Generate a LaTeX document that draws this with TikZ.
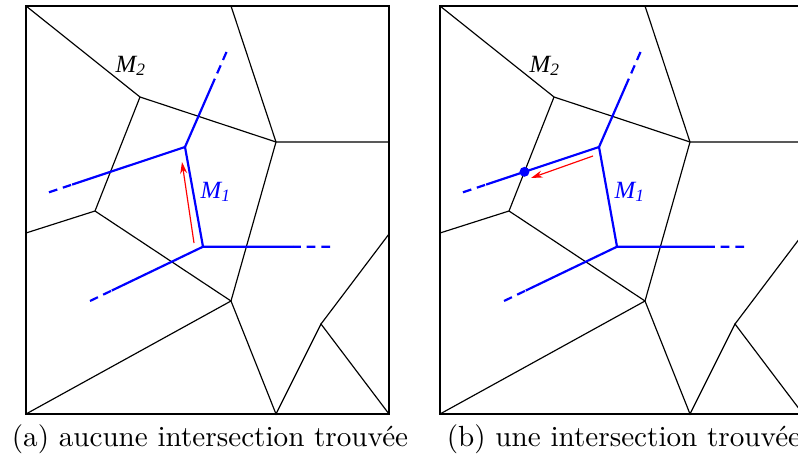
\documentclass[tikz,border=0pt]{standalone}
\usepackage{fontspec}
\usepackage{tikz}
\usetikzlibrary{arrows.meta,calc}
\newfontfamily\vorofont{Liberation Serif}
\definecolor{voroBlue}{HTML}{0000FF}
\definecolor{voroRed}{HTML}{FF0000}

\begin{document}
\begin{tikzpicture}[x=0.343pt,y=-0.343pt,
    cell/.style={line width=0.4pt,black},
    frame/.style={line width=0.5pt,black},
    seg/.style={line width=0.75pt,voroBlue,line join=round},
    raydash/.style={seg,dash pattern=on 3pt off 2pt},
    walk/.style={line width=0.4pt,voroRed,-{Stealth[length=4pt,width=2.4pt]}},
    lbl/.style={font=\vorofont\itshape\fontsize{8.5}{10}\selectfont,inner sep=0pt},
    caption/.style={anchor=base,inner sep=0pt}]
  \useasboundingbox (0,0) rectangle (798,460);
  % les deux panneaux ont le meme diagramme
  \foreach \dx/\sub/\txt in {0/a/{(a) aucune intersection trouvée},
                             414/b/{(b) une intersection trouvée}}{
    \begin{scope}[shift={(\dx,0)}]
      \coordinate (TL\sub) at (26,6);
      \coordinate (BR\sub) at (389,414);
      \coordinate (BL\sub) at (26,414);
      \coordinate (T\sub)  at (231,6);
      \coordinate (R1\sub) at (389,142);
      \coordinate (R2\sub) at (389,234);
      \coordinate (L1\sub) at (26,233);
      \coordinate (A\sub) at (140,97);
      \coordinate (B\sub) at (276,142);
      \coordinate (C\sub) at (95,211);
      \coordinate (D\sub) at (231,301);
      \coordinate (E\sub) at (276,414);
      \coordinate (F\sub) at (321,324);
      \draw[frame] (TL\sub) rectangle (BR\sub);
      \draw[cell] (TL\sub) -- (A\sub) -- (B\sub) -- (R1\sub);
      \draw[cell] (T\sub) -- (B\sub) -- (D\sub) -- (BL\sub);
      \draw[cell] (A\sub) -- (C\sub) -- (L1\sub);
      \draw[cell] (C\sub) -- (D\sub) -- (E\sub) -- (F\sub) -- (BR\sub);
      \draw[cell] (F\sub) -- (R2\sub);
      % cellule de M1
      \coordinate (P\sub) at (185,147);
      \coordinate (Q\sub) at (203,246.7);
      \coordinate (Wu\sub) at (226.5,52);
      \coordinate (Wl\sub) at (49,192.3);
      \coordinate (Wr\sub) at (330,246.7);
      \coordinate (Wd\sub) at (90,301);
      \draw[seg] ($(P\sub)!0.83!(Wl\sub)$) -- (P\sub) -- (Q\sub) -- ($(Q\sub)!0.71!(Wr\sub)$);
      \draw[seg] ($(P\sub)!0.665!(Wu\sub)$) -- (P\sub);
      \draw[seg] ($(Q\sub)!0.807!(Wd\sub)$) -- (Q\sub);
      \draw[raydash] (Wu\sub) -- ($(P\sub)!0.665!(Wu\sub)$);
      \draw[raydash] (Wl\sub) -- ($(P\sub)!0.83!(Wl\sub)$);
      \draw[raydash] (Wr\sub) -- ($(Q\sub)!0.71!(Wr\sub)$);
      \draw[raydash] (Wd\sub) -- ($(Q\sub)!0.807!(Wd\sub)$);
      \node[lbl] (mtwo\sub) at (131,66) {M\textsubscript{2}};
      \node[lbl,text=voroBlue] (mone\sub) at (216,192) {M\textsubscript{1}};
      \node[caption] (cap\sub) at (210,446.7) {\txt};
    \end{scope}
  }
  % (a) on remonte l'arete
  \coordinate (ra0) at (194,243);
  \coordinate (ra1) at (182,162);
  \draw[walk] (ra0) -- (ra1);
  % (b) premiere intersection
  \coordinate (rb0) at (593,156);
  \coordinate (rb1) at (531,178);
  \draw[walk] (rb0) -- (rb1);
  \coordinate (X) at (intersection of Ab--Cb and Pb--Wlb);
  \fill[voroBlue] (X) circle[radius=1.7pt];
\end{tikzpicture}
\end{document}
